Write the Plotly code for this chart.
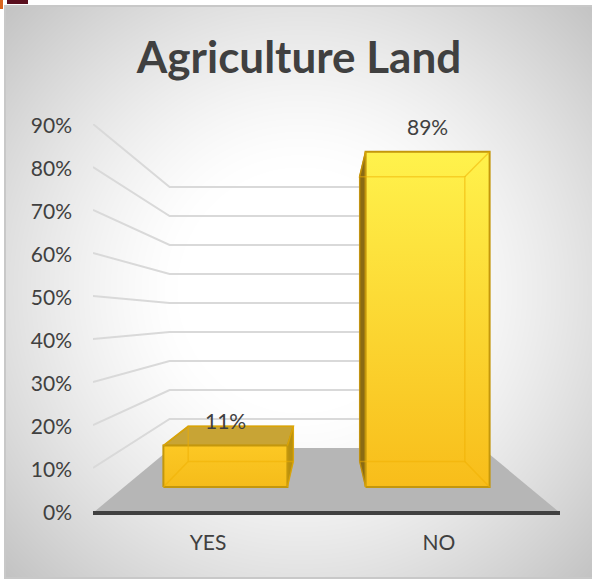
import base64, struct, zlib
import numpy as np
import plotly.graph_objects as go

categories = ["YES", "NO"]
shares = [11, 89]
share_labels = ["11%", "89%"]
y_ticks = [0, 10, 20, 30, 40, 50, 60, 70, 80, 90]
y_tick_labels = ["0%", "10%", "20%", "30%", "40%", "50%", "60%", "70%", "80%", "90%"]
chart_title = "Agriculture Land"

W, H = 592, 581
L, R, T, B = 93, 560, 124, 511   # plot area in page pixels
FONT = "Lato"
TXT = "#404040"

# axis range so that categories fall under their tick labels
X0 = (93 - 208) / 231
X1 = (560 - 208) / 231
CU = 0.513        # vanishing centre in axis units
CAT_SHIFT = 0.013
HALF = 0.3067     # half bar width
D_FRONT, D_BACK = 0.38, 0.786


def px(u, d):
    return CU + (u - CU) * (1 - 0.328 * d)


def py(v, d):
    return v * (1 - 0.3256 * d) + 14.65 * d


def poly(points):
    xs = [px(u, d) for u, v, d in points]
    ys = [py(v, d) for u, v, d in points]
    return xs + xs[:1], ys + ys[:1]


def background_png():
    w, h = 588, 574
    yy, xx = np.mgrid[0:h, 0:w]
    r = np.hypot(xx + 4 - 300, yy + 5 - 290) / 410
    t = np.clip((r - 0.3) / 0.7, 0, 1) ** 1.3
    c = (255 - 60 * t).astype(np.uint8)
    # border of the chart box
    c[:2, :] = 200
    c[-2:, :] = 200
    c[:, :2] = 200
    rows = b"".join(b"\x00" + np.repeat(row[:, None], 3, axis=1).tobytes() for row in c)

    def chunk(tag, data):
        return struct.pack(">I", len(data)) + tag + data + struct.pack(">I", zlib.crc32(tag + data))

    png = b"\x89PNG\r\n\x1a\n" + chunk(b"IHDR", struct.pack(">IIBBBBB", w, h, 8, 2, 0, 0, 0))
    png += chunk(b"IDAT", zlib.compress(rows, 9)) + chunk(b"IEND", b"")
    return "data:image/png;base64," + base64.b64encode(png).decode()


fig = go.Figure()


def add_line(xs, ys, color, width):
    fig.add_trace(go.Scatter(x=xs, y=ys, mode="lines", line=dict(color=color, width=width),
                             hoverinfo="skip", showlegend=False, cliponaxis=False))


def add_face(points, fill=None, gradient=None, line="rgba(0,0,0,0)", width=0):
    xs, ys = poly(points)
    kw = dict(fillgradient=gradient) if gradient else dict(fillcolor=fill)
    fig.add_trace(go.Scatter(x=xs, y=ys, mode="lines", fill="toself",
                             line=dict(color=line, width=width), hoverinfo="skip",
                             showlegend=False, cliponaxis=False, **kw))


# floor
floor_l, floor_r = X0 + 0.0095, X1 - 0.0095
add_face([(floor_l, 0, 0), (floor_r, 0, 0), (floor_r, 0, 1), (floor_l, 0, 1)], fill="#b6b6b6")

# walls
for v in y_ticks[1:]:
    add_line([px(X0, 0), px(X0, 1), px(X1, 1)], [py(v, 0), py(v, 1), py(v, 1)], "#d9d9d9", 2)

EDGE = "#c4970c"
INNER = "rgba(240,175,0,0.5)"
for i, v in enumerate(shares):
    a, b = i + CAT_SHIFT - HALF, i + CAT_SHIFT + HALF
    side_u = b if i == 0 else a
    # top and side faces
    add_face([(a, v, D_FRONT), (b, v, D_FRONT), (b, v, D_BACK), (a, v, D_BACK)],
             fill="#c8a435", line=EDGE, width=1.5)
    add_face([(side_u, 0, D_FRONT), (side_u, v, D_FRONT), (side_u, v, D_BACK), (side_u, 0, D_BACK)],
             fill="#b8900f" if i == 0 else "#8a6b14", line=EDGE if i == 0 else "#8a6b14", width=1)
    # front face
    top_col = "#fcc824" if i == 0 else "#fff24c"
    bottom_col = "#f5bc1a" if i == 0 else "#f8bd1a"
    add_face([(a, 0, D_FRONT), (b, 0, D_FRONT), (b, v, D_FRONT), (a, v, D_FRONT)],
             gradient=dict(type="vertical", colorscale=[[0, bottom_col], [1, top_col]]),
             line=EDGE, width=2)
    # back edges seen through the front
    xs, ys = poly([(a, 0, D_BACK), (b, 0, D_BACK), (b, v, D_BACK), (a, v, D_BACK)])
    add_line(xs, ys, INNER, 1.5)
    for u in (a, b):
        for val in (0, v):
            add_line([px(u, D_BACK), px(u, D_FRONT)], [py(val, D_BACK), py(val, D_FRONT)], INNER, 1.5)

annotations = [
    dict(x=px(i + CAT_SHIFT, D_FRONT), y=py(v, D_FRONT) + 5.8, text=lab, showarrow=False,
         xref="x", yref="y", font=dict(family=FONT, size=21, color=TXT))
    for i, (v, lab) in enumerate(zip(shares, share_labels))
]

to_px_x = lambda p: (p - L) / (R - L)
to_px_y = lambda p: (B - p) / (B - T)

corner_marks = [
    dict(type="rect", xref="paper", yref="paper", layer="above", line=dict(width=0), fillcolor=col,
         x0=to_px_x(x0), x1=to_px_x(x1), y0=to_px_y(y0), y1=to_px_y(y1))
    for col, x0, x1, y0, y1 in [("#d9641e", 0, 3, 0, 9), ("#5a0f1e", 7, 28, 0, 4)]
]

fig.update_layout(
    width=W, height=H, autosize=False,
    margin=dict(l=L, r=W - R, t=T, b=H - B, pad=0),
    paper_bgcolor="white", plot_bgcolor="rgba(0,0,0,0)",
    showlegend=False, font=dict(family=FONT, color=TXT),
    title=dict(text=f"<b>{chart_title}</b>", x=299 / W, xanchor="center", xref="container",
               y=1 - 58 / H, yanchor="middle", yref="container",
               font=dict(family=FONT, size=44, color=TXT)),
    xaxis=dict(range=[X0, X1], tickvals=[0, 1], ticktext=categories, showgrid=False, zeroline=False,
               showline=True, linecolor="#404040", linewidth=4, ticks="", ticklabelstandoff=10,
               tickfont=dict(family=FONT, size=21, color=TXT), fixedrange=True),
    yaxis=dict(range=[0, 90], tickvals=y_ticks, ticktext=y_tick_labels, showgrid=False, zeroline=False,
               showline=False, ticks="", ticklabelstandoff=20, ticklabelshift=2,
               tickfont=dict(family=FONT, size=21, color=TXT), fixedrange=True),
    annotations=annotations,
    shapes=corner_marks,
    images=[dict(source=background_png(), xref="paper", yref="paper",
                 x=to_px_x(4), y=to_px_y(5), sizex=588 / (R - L), sizey=574 / (B - T),
                 sizing="stretch", xanchor="left", yanchor="top", layer="below")],
)
fig.write_html("out.html", config={"displayModeBar": False},
               post_script="document.body.style.margin='0';document.documentElement.style.overflow='hidden';")
